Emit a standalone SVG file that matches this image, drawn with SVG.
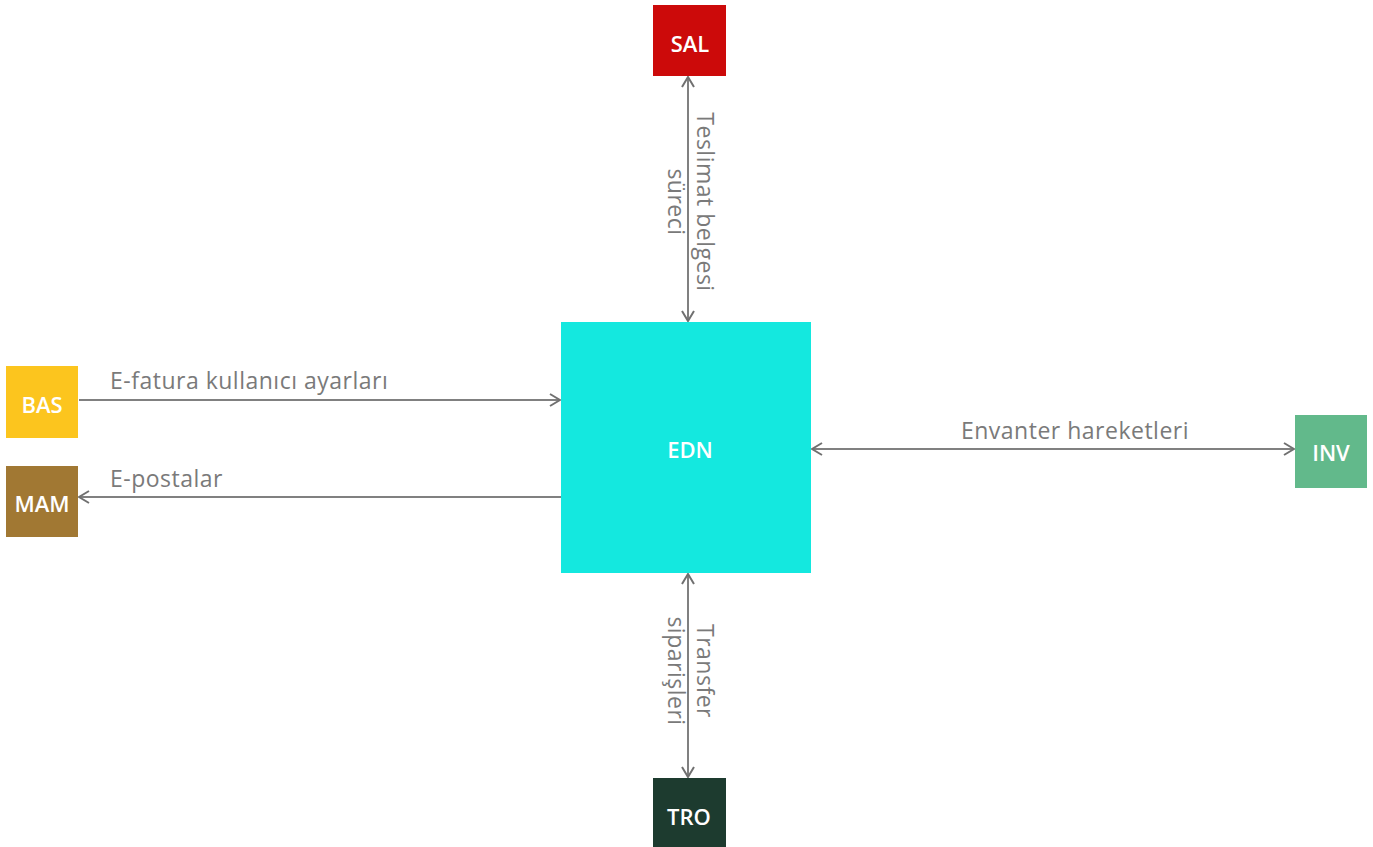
<svg xmlns="http://www.w3.org/2000/svg" width="1373" height="847" viewBox="0 0 1373 847">
<style>
.lbl{font-family:"Open Sans","Liberation Sans",sans-serif;font-size:23px;fill:#7a7a7a;letter-spacing:0.5px}
.nt{font-family:"Open Sans","Liberation Sans",sans-serif;font-size:22px;font-weight:600;fill:#ffffff;text-anchor:middle;dominant-baseline:central}
.ln{stroke:#808080;stroke-width:2;fill:none}
</style>
<defs>
<marker id="ae" viewBox="0 0 14 14" refX="13" refY="7" markerWidth="14" markerHeight="14" markerUnits="userSpaceOnUse" orient="auto">
<path d="M3,1 L13,7 L3,13" fill="none" stroke="#707070" stroke-width="2"/>
</marker>
<marker id="as" viewBox="0 0 14 14" refX="1" refY="7" markerWidth="14" markerHeight="14" markerUnits="userSpaceOnUse" orient="auto">
<path d="M11,1 L1,7 L11,13" fill="none" stroke="#707070" stroke-width="2"/>
</marker>
</defs>
<rect width="1373" height="847" fill="#ffffff"/>
<g id="connectors">
<line class="ln" x1="688" y1="77" x2="688" y2="321" marker-start="url(#as)" marker-end="url(#ae)"/>
<line class="ln" x1="79" y1="400" x2="560" y2="400" marker-end="url(#ae)"/>
<line class="ln" x1="561" y1="497" x2="79" y2="497" marker-end="url(#ae)"/>
<line class="ln" x1="812" y1="449" x2="1294" y2="449" marker-start="url(#as)" marker-end="url(#ae)"/>
<line class="ln" x1="688" y1="574" x2="688" y2="777" marker-start="url(#as)" marker-end="url(#ae)"/>
<text class="lbl" text-anchor="middle" transform="translate(688,202) rotate(90)"><tspan x="0" y="-9">Teslimat belgesi</tspan><tspan x="0" y="20">süreci</tspan></text>
<text class="lbl" x="110" y="389">E-fatura kullanıcı ayarları</text>
<text class="lbl" x="110" y="487">E-postalar</text>
<text class="lbl" x="1075" y="439" text-anchor="middle">Envanter hareketleri</text>
<text class="lbl" text-anchor="middle" transform="translate(688,671) rotate(90)"><tspan x="0" y="-9">Transfer</tspan><tspan x="0" y="20">siparişleri</tspan></text>
</g>
<g id="SAL"><rect x="653" y="5" width="73" height="71" fill="#cc0a0a"/><text class="nt" x="690" y="43">SAL</text></g>
<g id="EDN"><rect x="561" y="322" width="250" height="251" fill="#14e8df"/><text class="nt" x="690" y="449">EDN</text></g>
<g id="BAS"><rect x="6" y="366" width="72" height="72" fill="#fcc51e"/><text class="nt" x="42" y="404">BAS</text></g>
<g id="MAM"><rect x="6" y="466" width="72" height="71" fill="#a17833"/><text class="nt" x="42" y="503">MAM</text></g>
<g id="INV"><rect x="1295" y="415" width="72" height="73" fill="#62b98b"/><text class="nt" x="1331" y="452">INV</text></g>
<g id="TRO"><rect x="653" y="778" width="73" height="69" fill="#1d3b2f"/><text class="nt" x="689" y="816">TRO</text></g>
</svg>
